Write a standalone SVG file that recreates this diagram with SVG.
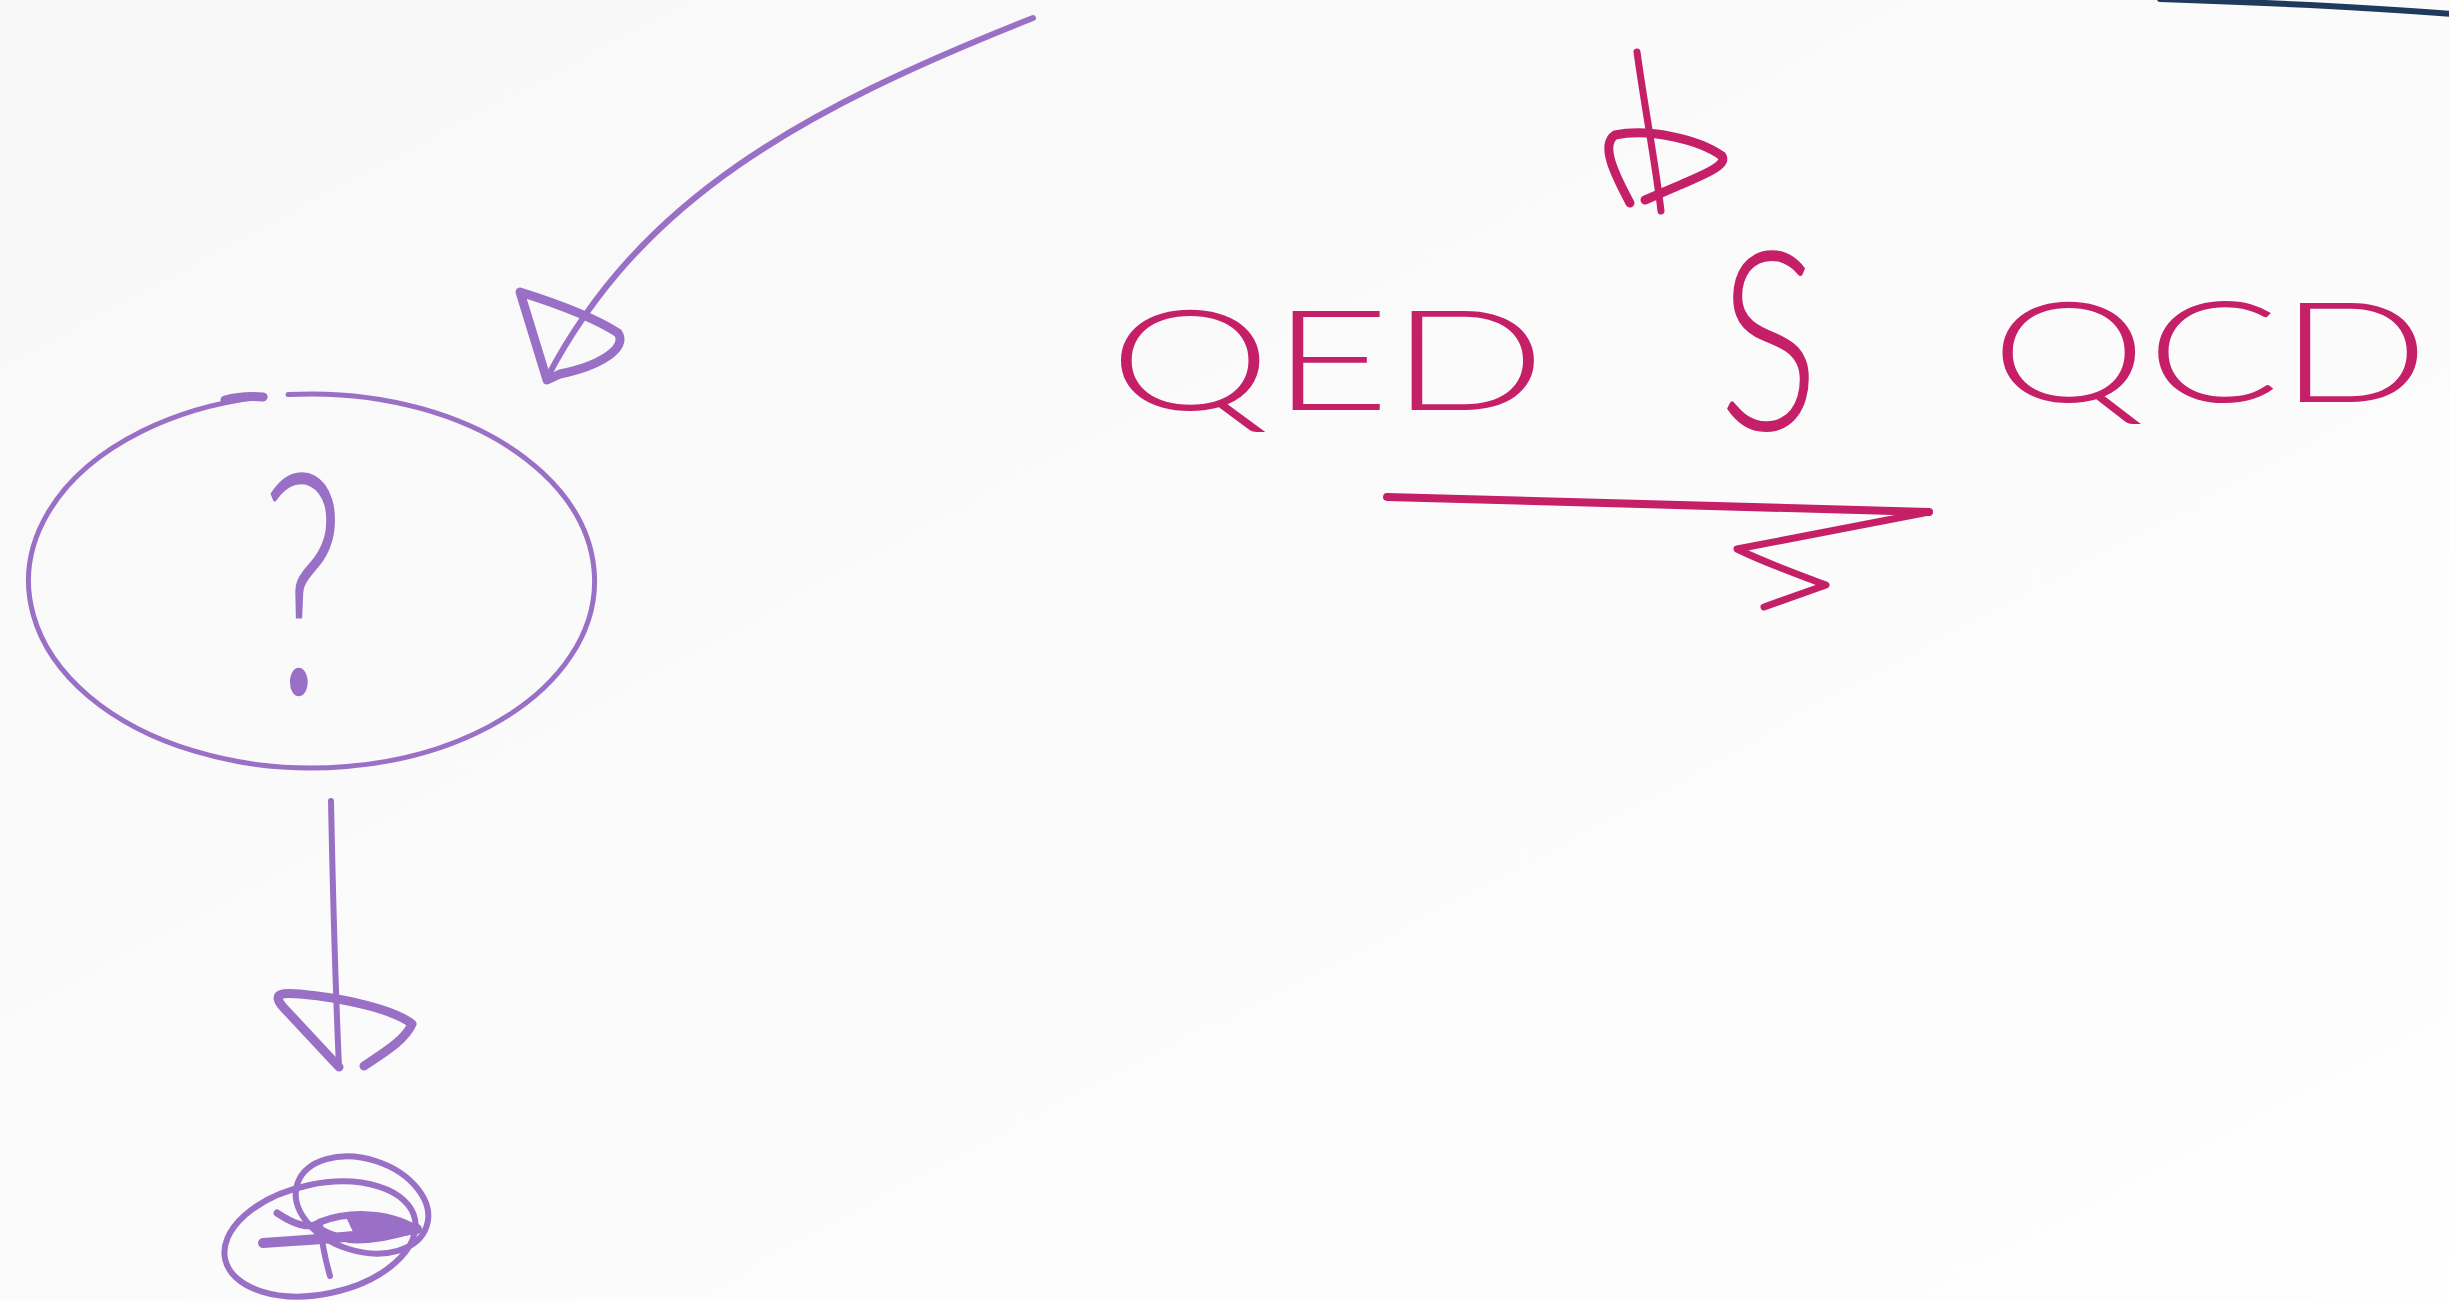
<svg xmlns="http://www.w3.org/2000/svg" width="2449" height="1300" viewBox="0 0 2449 1300">
<defs>
<style>
.p{fill:none;stroke:#9a6fc6;stroke-linecap:round;stroke-linejoin:round}
.m{fill:none;stroke:#c51f68;stroke-linecap:round;stroke-linejoin:round}
.mt{fill:#c51f68;font-family:Lato,"Open Sans","Liberation Sans",sans-serif}
.pt{fill:#9a6fc6;font-family:Lato,"Open Sans","Liberation Sans",sans-serif}
</style>
<linearGradient id="bg" x1="0" y1="0" x2="1" y2="1">
<stop offset="0" stop-color="#f8f8f8"/>
<stop offset="1" stop-color="#fefefe"/>
</linearGradient>
</defs>
<rect width="2449" height="1300" fill="url(#bg)"/>

<g id="node-question">
<path class="p" stroke-width="5" d="M288,394.6 A283,187 0 1 1 265,396.5"/>
<path class="p" stroke-width="9" d="M225,400 C240,396 252,396 263,397"/>
<text class="pt" font-size="310" font-weight="300" text-anchor="middle" transform="translate(303,694) scale(0.62,1)">?</text>
</g>

<g id="node-end">
<ellipse class="p" stroke-width="6" cx="320" cy="1239" rx="97" ry="55" transform="rotate(-12 320 1239)"/>
<ellipse class="p" stroke-width="6" cx="362" cy="1205" rx="68" ry="46" transform="rotate(18 362 1205)"/>
<path class="p" stroke-width="10" d="M263,1243 C310,1240 370,1236 417,1229"/>
<path class="p" stroke-width="7" d="M277,1213 C295,1225 310,1230 320,1222 C345,1212 385,1210 417,1229 C395,1236 375,1240 357,1240 C340,1240 325,1232 318,1228"/>
<path class="p" stroke-width="6" d="M320,1224 C322,1245 326,1262 330,1276"/>
<path fill="#9a6fc6" d="M345,1215 C375,1212 400,1218 417,1229 C395,1234 372,1237 355,1236 Z"/>
</g>

<g id="node-label">
<text class="mt" font-size="140" font-weight="300" x="1109" y="410" textLength="437" lengthAdjust="spacingAndGlyphs">QED</text>
<text class="mt" font-size="250" font-weight="300" text-anchor="middle" transform="translate(1769,430) scale(0.75,1)">S</text>
<text class="mt" font-size="140" font-weight="300" x="1991" y="402" textLength="438" lengthAdjust="spacingAndGlyphs">QCD</text>
</g>

<g id="connectors">
<path class="p" stroke-width="6" d="M1033,18 C800,110 640,200 547,378"/>
<path class="p" stroke-width="9" d="M547,380 L520,292 C555,303 595,318 618,333 C628,348 600,366 560,374 Z"/>
<path class="p" stroke-width="6" d="M331,801 C333,900 336,1000 339,1067"/>
<path class="p" stroke-width="9" d="M339,1067 L283,1007 C270,992 285,993 300,994 C345,998 395,1010 412,1024 C405,1040 385,1052 364,1066"/>
<path class="m" stroke-width="7" d="M1637,52 C1645,110 1655,160 1661,211"/>
<path class="m" stroke-width="9" d="M1630,203 C1615,175 1600,145 1615,135 C1650,128 1700,140 1722,156 C1728,166 1700,176 1680,185 L1645,200"/>
<path class="m" stroke-width="8" d="M1387,497 L1929,512"/>
<path class="m" stroke-width="7" d="M1929,512 L1737,549 C1770,565 1800,575 1826,585 L1764,607"/>
<path fill="none" stroke="#1f3a5c" stroke-width="6" stroke-linecap="round" d="M2160,-1 C2280,3 2380,8 2452,14"/>
</g>
</svg>
